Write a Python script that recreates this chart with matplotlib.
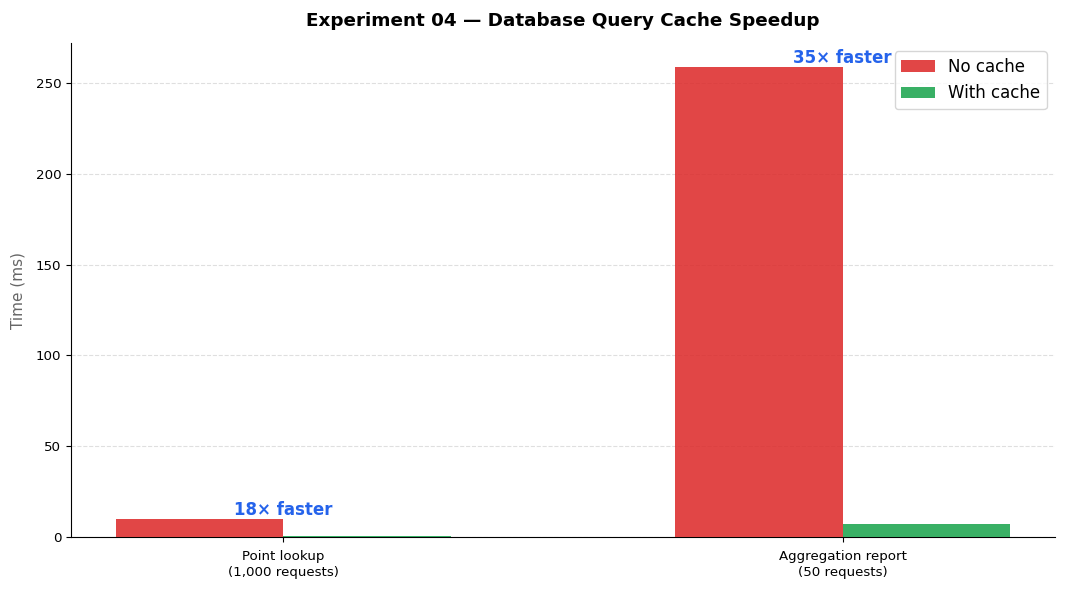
import matplotlib
matplotlib.use("Agg")
import matplotlib.pyplot as plt
import numpy as np

# data
categories = ["Point lookup\n(1,000 requests)", "Aggregation report\n(50 requests)"]
no_cache = [10.0, 259.0]
with_cache = [0.55, 7.4]
speedups = ["18× faster", "35× faster"]

fig, ax = plt.subplots(figsize=(10.67, 5.91), dpi=100)
fig.subplots_adjust(left=0.0665, right=0.9888, bottom=0.0914, top=0.927)

x = np.arange(len(categories))
w = 0.3
ax.bar(x - w / 2, no_cache, w, color="#dc2626", alpha=0.85, label="No cache", zorder=3)
ax.bar(x + w / 2, with_cache, w, color="#16a34a", alpha=0.85, label="With cache", zorder=3)

# speedup labels sitting on top of each group
for i, txt in enumerate(speedups):
    top = max(no_cache[i], with_cache[i])
    ax.text(x[i], top, txt, ha="center", va="bottom",
            fontsize=12, fontweight="bold", color="#2563eb")

ax.set_xticks(x)
ax.set_xticklabels(categories, fontsize=9.6, linespacing=1.25)
ax.tick_params(axis="x", pad=6)
ax.tick_params(axis="y", labelsize=9.6)
ax.set_ylabel("Time (ms)", fontsize=11, color="#666666", labelpad=7)
ax.set_title("Experiment 04 — Database Query Cache Speedup", fontsize=13.2, fontweight="bold", pad=12)
ax.grid(axis="y", linestyle="--", alpha=0.4, zorder=0)
ax.spines["top"].set_visible(False)
ax.spines["right"].set_visible(False)
ax.legend(loc="upper right", fontsize=12)

plt.savefig("out.png", dpi=100)
plt.close()
